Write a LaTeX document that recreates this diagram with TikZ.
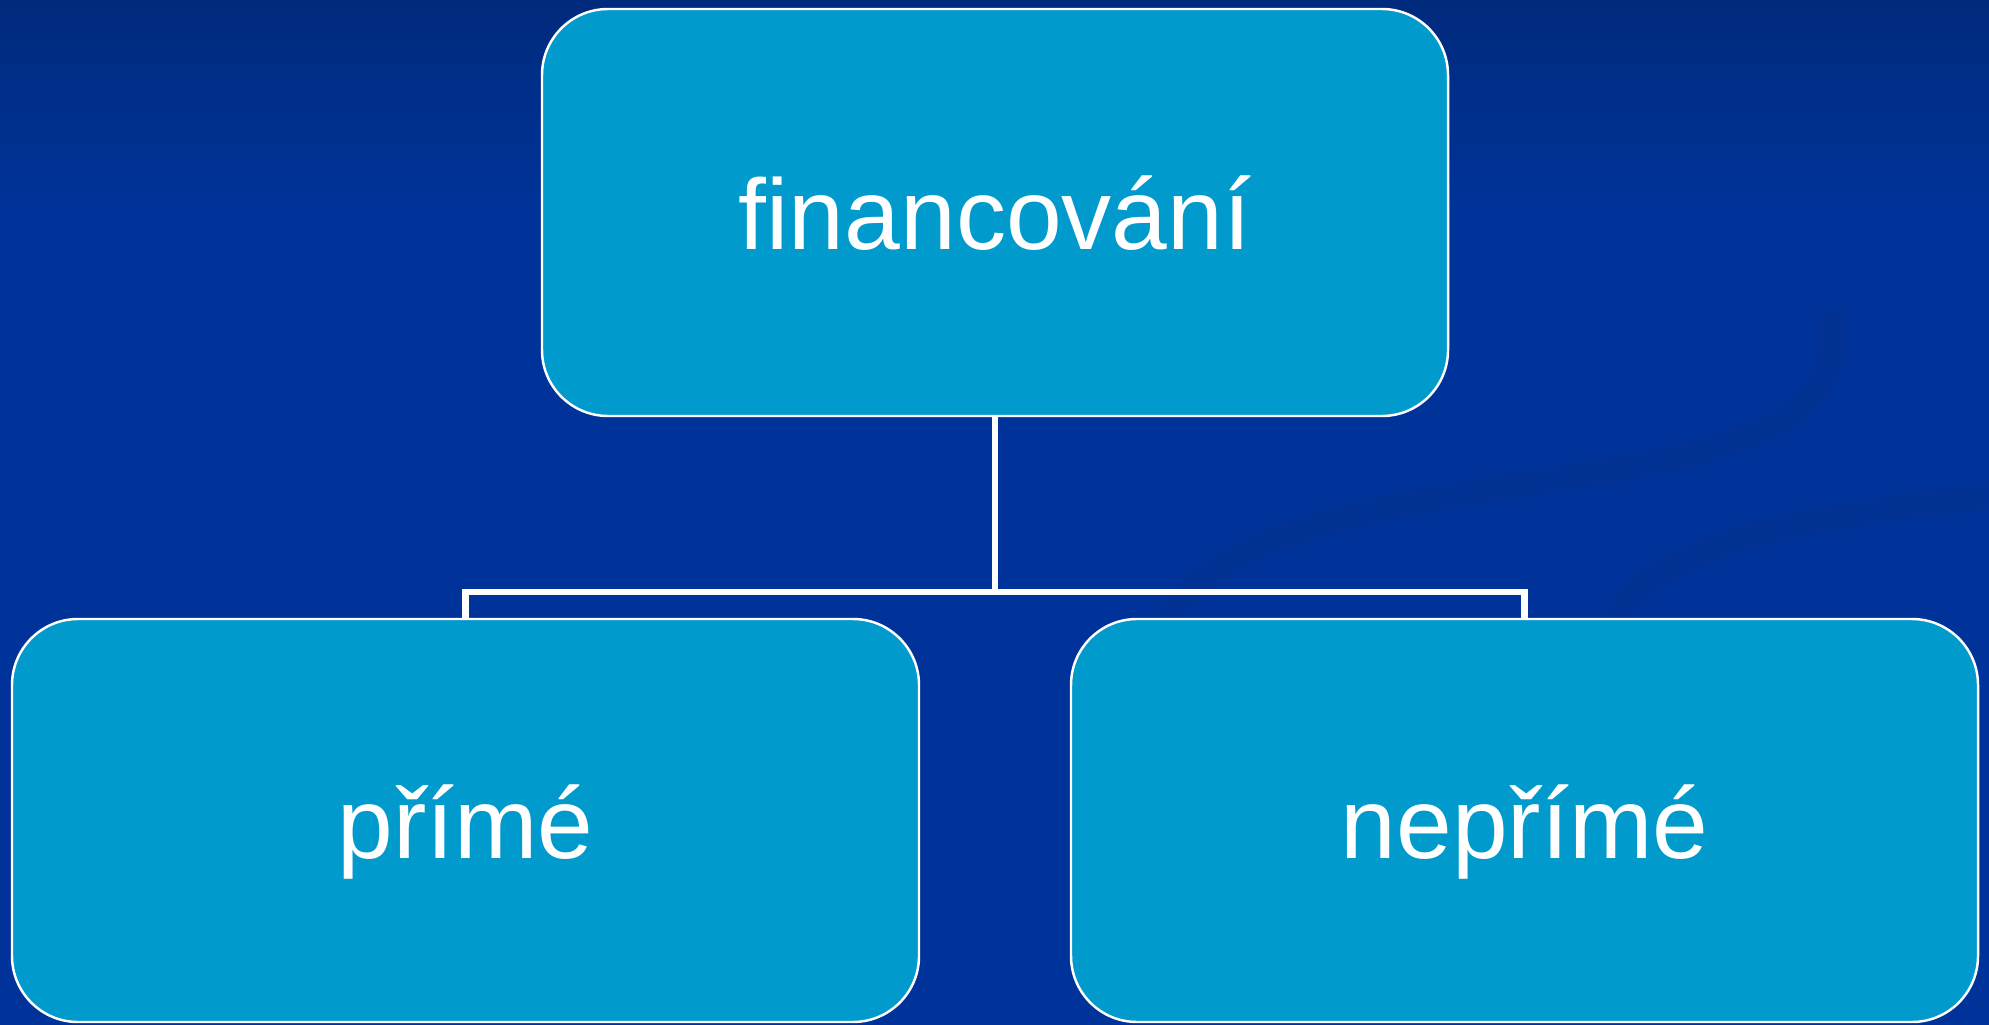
\documentclass[tikz,border=0pt]{standalone}
\usepackage{fontspec}
\setmainfont{Liberation Sans}
\definecolor{bgtop}{HTML}{002A7C}
\definecolor{bgblue}{HTML}{00339A}
\definecolor{swirl}{HTML}{003193}
\definecolor{boxblue}{HTML}{009ACC}
\tikzset{
  box/.style={draw=white, line width=0.7pt, fill=boxblue, rounded corners=0.66cm,
    text=white, font=\fontsize{28.5}{34}\selectfont, inner sep=0pt,
    text height=0.75cm, text depth=0pt},
  branch/.style={draw=white, line width=1.85pt}
}
\begin{document}
\begin{tikzpicture}
        % Background
        \useasboundingbox (0,0) rectangle (19.89,-10.25);
        \fill[bgblue] (0,0) rectangle (19.89,-10.25);
        \fill[top color=bgtop, bottom color=bgblue] (0,0) rectangle (19.89,-2.2);

        % Faint swirls
        \draw[swirl, line width=0.27cm] (11.6,-6.4) .. controls (11.9,-5.4) and (13.5,-5.1) .. (15.5,-4.8)
            .. controls (17.5,-4.5) and (18.5,-4.2) .. (18.3,-3.1);
        \draw[swirl, line width=0.27cm] (16.05,-6.4) .. controls (16.4,-5.5) and (17.5,-5.25) .. (19.95,-4.95);

        % Fork point
        \coordinate (fork) at (9.95,-5.92);

        % Boxes
        \node[box, minimum width=9.06cm, minimum height=4.07cm] (fin) at (9.95,-2.125) {financování};
        \node[box, minimum width=9.07cm, minimum height=4.03cm] (prime) at (4.655,-8.205) {přímé};
        \node[box, minimum width=9.07cm, minimum height=4.03cm] (neprime) at (15.245,-8.205) {nepřímé};

        % Connectors
        \draw[branch] (fin.south) -- (fork);
        \draw[branch] (prime.north) |- (fork) -| (neprime.north);
    \end{tikzpicture}
\end{document}
